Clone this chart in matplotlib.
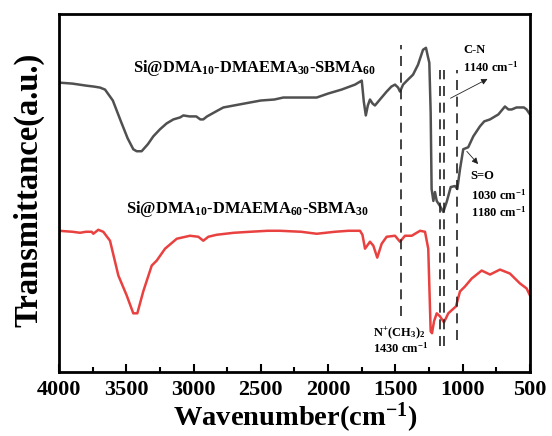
import matplotlib
matplotlib.use('Agg')
import matplotlib.pyplot as plt
from matplotlib.ticker import MultipleLocator

plt.rcParams['font.family'] = 'Liberation Serif'
plt.rcParams['font.weight'] = 'bold'
plt.rcParams['axes.labelweight'] = 'bold'
plt.rcParams['mathtext.fontset'] = 'custom'
plt.rcParams['mathtext.rm'] = 'Liberation Serif:bold'
plt.rcParams['mathtext.it'] = 'Liberation Serif:italic:bold'
plt.rcParams['mathtext.bf'] = 'Liberation Serif:bold'

# Si@DMA10-DMAEMA30-SBMA60 (upper, gray)
wn_30 = [4000, 3900, 3800, 3740, 3695, 3658, 3600, 3540, 3490, 3448, 3423, 3400,
         3386, 3340, 3299, 3250, 3200, 3150, 3100, 3076, 3030, 2980, 2950, 2928,
         2900, 2860, 2820, 2779, 2700, 2581, 2500, 2400, 2333, 2250, 2150, 2085,
         2000, 1900, 1800, 1763, 1750, 1735, 1720, 1705, 1689, 1670, 1652, 1615,
         1565, 1530, 1503, 1480, 1466, 1443, 1407, 1369, 1332, 1295, 1273, 1260,
         1248, 1238, 1231, 1218, 1206, 1193, 1169, 1144, 1119, 1089, 1057, 1040,
         1020, 996, 959, 921, 872, 840, 797, 760, 735, 686, 660, 636, 600, 574,
         545, 525, 500]
tr_30 = [291, 290, 288, 287, 286, 284, 273, 252, 235, 224, 222, 222,
         222, 229, 237, 244, 250, 254, 256, 258, 257, 257, 254, 254,
         257, 260, 263, 266, 268, 271, 273, 274, 276, 276, 276, 276,
         280, 284, 289, 292, 293, 272, 258, 268, 274, 270, 268, 274,
         282, 287, 289, 286, 282, 289, 294, 299, 309, 324, 326, 318,
         311, 261, 184, 172, 181, 172, 167, 161, 171, 186, 187, 184,
         204, 224, 226, 237, 247, 252, 254, 257, 259, 267, 264, 264,
         266, 266, 266, 264, 259]

# Si@DMA10-DMAEMA60-SBMA30 (lower, red)
wn_60 = [4000, 3900, 3844, 3800, 3757, 3745, 3708, 3671, 3621, 3559, 3497, 3448,
         3418, 3374, 3311, 3274, 3212, 3125, 3027, 2965, 2928, 2890, 2828, 2700,
         2581, 2450, 2358, 2200, 2085, 1950, 1850, 1763, 1745, 1726, 1689, 1664,
         1635, 1602, 1565, 1503, 1466, 1429, 1379, 1317, 1280, 1256, 1238, 1228,
         1213, 1193, 1169, 1139, 1107, 1050, 1020, 983, 933, 859, 797, 723, 649,
         574, 525, 500]
tr_60 = [142, 141, 140, 141, 141, 139, 143, 141, 132, 97, 77, 59,
         59, 81, 107, 112, 124, 134, 137, 136, 132, 136, 138, 140,
         141, 142, 142, 141, 139, 141, 142, 142, 138, 124, 131, 127,
         115, 129, 136, 137, 131, 137, 137, 142, 141, 124, 41, 39,
         51, 59, 56, 50, 59, 66, 81, 86, 94, 102, 98, 103, 99,
         89, 84, 77]

# dashed marker lines: (wavenumber, y bottom, y top)
dash_wn = [1462, 1165, 1141, 1042]
dash_lo = [56, 26, 26, 32]
dash_hi = [329, 304, 304, 304]

fig = plt.figure(figsize=(5.52, 4.36), dpi=100)
ax = fig.add_axes([0.1069, 0.1468, 0.8532, 0.8211])

ax.plot(wn_30, tr_30, color='#505050', lw=1.8)
ax.plot(wn_60, tr_60, color='#e8413f', lw=1.8)

for x, lo, hi in zip(dash_wn, dash_lo, dash_hi):
    ax.plot([x, x], [lo, hi], color='#222222', lw=1.2, ls=(0, (6, 4)))

ax.text(3450, 306, r'Si@DMA$_{\mathregular{10}}$-DMAEMA$_{\mathregular{30}}$-SBMA$_{\mathregular{60}}$',
        fontsize=11.9, ha='left', va='center')
ax.text(3502, 164, r'Si@DMA$_{\mathregular{10}}$-DMAEMA$_{\mathregular{60}}$-SBMA$_{\mathregular{30}}$',
        fontsize=11.9, ha='left', va='center')

ax.text(998, 324, 'C-N', fontsize=9, ha='left', va='center')
ax.text(998, 306, r'1140 cm$^{\mathregular{-1}}$', fontsize=9, ha='left', va='center')
ax.text(946, 197, 'S=O', fontsize=9, ha='left', va='center')
ax.text(938, 178, r'1030 cm$^{\mathregular{-1}}$', fontsize=9, ha='left', va='center')
ax.text(938, 161, r'1180 cm$^{\mathregular{-1}}$', fontsize=9, ha='left', va='center')
ax.text(1667, 39, r'N$^{\mathregular{+}}$(CH$_{\mathregular{3}}$)$_{\mathregular{2}}$',
        fontsize=9, ha='left', va='center')
ax.text(1667, 24, r'1430 cm$^{\mathregular{-1}}$', fontsize=9, ha='left', va='center')

ax.annotate('', xy=(797, 296), xytext=(1109, 274),
            arrowprops=dict(arrowstyle='-|>', color='#222222', lw=0.6,
                            mutation_scale=9))
ax.annotate('', xy=(872, 207), xytext=(983, 224),
            arrowprops=dict(arrowstyle='-|>', color='#222222', lw=0.6,
                            mutation_scale=9))

ax.set_xlim(4000, 500)
ax.set_ylim(0, 360)
ax.xaxis.set_major_locator(MultipleLocator(500))
ax.xaxis.set_minor_locator(MultipleLocator(250))
ax.tick_params(axis='x', which='major', direction='in', length=6, width=1.5,
               labelsize=16, pad=6)
ax.tick_params(axis='x', which='minor', direction='in', length=3.5, width=1.5)
ax.set_yticks([])
for s in ax.spines.values():
    s.set_linewidth(2)

fig.text(295 / 552, 1 - 418 / 436, r'Wavenumber(cm$^{\mathregular{-1}}$)',
         fontsize=20.5, fontweight='bold', ha='center', va='center')
fig.text(29 / 552, 1 - 190 / 436, 'Transmittance(a.u.)', rotation=90,
         fontsize=23.5, fontweight='bold', ha='center', va='center')

fig.savefig('out.png', dpi=100)
